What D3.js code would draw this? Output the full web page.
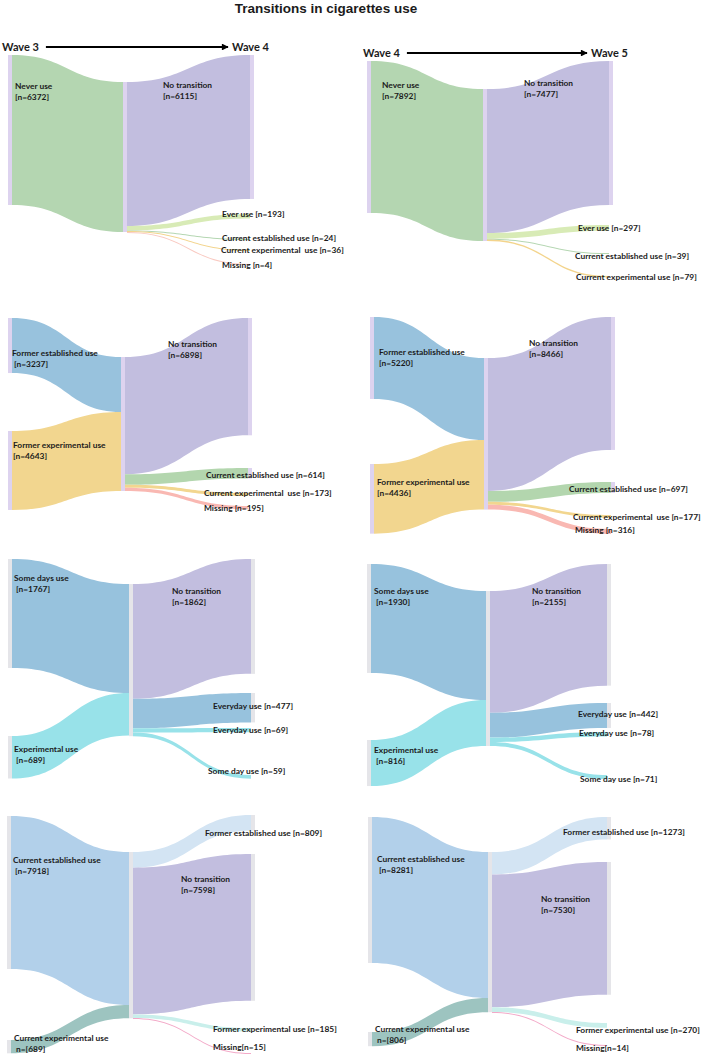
<!DOCTYPE html>
<html>
<head>
<meta charset="utf-8">
<script src="https://cdn.jsdelivr.net/npm/d3@7"></script>
<style>
  body { margin: 0; background: #fff; }
  svg { display: block; }
  text { font-family: Lato, "DejaVu Sans", sans-serif; fill: #1b1b1b; }
</style>
</head>
<body>
<svg id="chart" width="704" height="1062"></svg>
<script>
// ---------- data ----------
const title = "Transitions in cigarettes use";
const waves = ["Wave 3", "Wave 4", "Wave 5"];

// never users
const neverSrcN34 = [6372];
const neverSrcText34 = [["Never use", "[n=6372]"]];
const neverTgtN34 = [6115, 193, 24, 36, 4];
const neverTgtText34 = [["No transition", "[n=6115]"], ["Ever use [n=193]"], ["Current established use [n=24]"],
  ["Current experimental  use [n=36]"], ["Missing [n=4]"]];

const neverSrcN45 = [7892];
const neverSrcText45 = [["Never use", "[n=7892]"]];
const neverTgtN45 = [7477, 297, 39, 79];
const neverTgtText45 = [["No transition", "[n=7477]"], ["Ever use [n=297]"], ["Current established use [n=39]"],
  ["Current experimental use [n=79]"]];

// former users
const formerSrcN34 = [3237, 4643];
const formerSrcText34 = [["Former established use", " [n=3237]"], ["Former experimental use", "[n=4643]"]];
const formerTgtN34 = [6898, 614, 173, 195];
const formerTgtText34 = [["No transition", "[n=6898]"], ["Current established use [n=614]"],
  ["Current experimental  use [n=173]"], ["Missing [n=195]"]];

const formerSrcN45 = [5220, 4436];
const formerSrcText45 = [["Former established use", "[n=5220]"], ["Former experimental use", "[n=4436]"]];
const formerTgtN45 = [8466, 697, 177, 316];
const formerTgtText45 = [["No transition", "[n=8466]"], ["Current established use [n=697]"],
  ["Current experimental  use [n=177]"], ["Missing [n=316]"]];

// some days / experimental users
const somedaySrcN34 = [1767, 689];
const somedaySrcText34 = [["Some days use", " [n=1767]"], ["Experimental use", " [n=689]"]];
const somedayTgtN34 = [1862, 477, 69, 59];
const somedayTgtText34 = [["No transition", "[n=1862]"], ["Everyday use [n=477]"], ["Everyday use [n=69]"],
  ["Some day use [n=59]"]];

const somedaySrcN45 = [1930, 816];
const somedaySrcText45 = [["Some days use", " [n=1930]"], ["Experimental use", " [n=816]"]];
const somedayTgtN45 = [2155, 442, 78, 71];
const somedayTgtText45 = [["No transition", "[n=2155]"], ["Everyday use [n=442]"], ["Everyday use [n=78]"],
  ["Some day use [n=71]"]];

// current users
const currentSrcN34 = [7918, 689];
const currentSrcText34 = [["Current established use", " [n=7918]"], ["Current experimental use", " n=[689]"]];
const currentTgtN34 = [809, 7598, 185, 15];
const currentTgtText34 = [["Former established use [n=809]"], ["No transition", "[n=7598]"],
  ["Former experimental use [n=185]"], ["Missing[n=15]"]];

const currentSrcN45 = [8281, 806];
const currentSrcText45 = [["Current established use", " [n=8281]"], ["Current experimental use", " n=[806]"]];
const currentTgtN45 = [1273, 7530, 270, 14];
const currentTgtText45 = [["Former established use [n=1273]"], ["No transition", "[n=7530]"],
  ["Former experimental use [n=270]"], ["Missing[n=14]"]];

// ---------- styles ----------
const lav = "#ddd3ef", grey = "#e5e5e9", purple = "#c2bedf";
const neverColors = { src: ["#b4d6b1"], tgt: [purple, "#d8ebb6", "#b4d6b1", "#f3d48c", "#f9c9c1"], bar: lav };
const formerColors = { src: ["#98c2dd", "#f2d68f"], tgt: [purple, "#b3d6ae", "#f2d68f", "#f9b8b2"], bar: lav };
const somedayColors = { src: ["#97c2dd", "#98e2e9"], tgt: [purple, "#97c2dd", "#98e2e9", "#98e2e9"], bar: grey };
const currentColors = { src: ["#b2d0ea", "#9dc4c0"], tgt: ["#d3e4f3", purple, "#c9efeb", "#f3a9c8"], bar: grey };

// ---------- layout ----------
const panels = [
  { srcN: neverSrcN34, srcText: neverSrcText34, tgtN: neverTgtN34, tgtText: neverTgtText34, col: neverColors,
    xL: 8, xM: 123, xR: 250, top: 55, px: 150, mid: 27, srcTop: [0], tgtTop: [0, 159, 184, 195, 209],
    srcLab: [[7, 31]], tgtLab: [[-87, 30], [-28, 0], [-28, -1], [-29, 0], [-28, 1]], head: [0, 1] },
  { srcN: neverSrcN45, srcText: neverSrcText45, tgtN: neverTgtN45, tgtText: neverTgtText45, col: neverColors,
    xL: 367, xM: 483, xR: 609, top: 61, px: 152, mid: 28, srcTop: [0], tgtTop: [0, 164, 192, 215],
    srcLab: [[15, 24]], tgtLab: [[-85, 22], [-31, 3], [-34, 3], [-33, 1]], head: [1, 2] },
  { srcN: formerSrcN34, srcText: formerSrcText34, tgtN: formerTgtN34, tgtText: formerTgtText34, col: formerColors,
    xL: 8, xM: 121, xR: 248, top: 318, px: 134, mid: 39, srcTop: [0, 113], tgtTop: [0, 150, 175, 188],
    srcLab: [[4, 35], [5, 14]], tgtLab: [[-80, 26], [-42, 7], [-44, 0], [-44, 2]] },
  { srcN: formerSrcN45, srcText: formerSrcText45, tgtN: formerTgtN45, tgtText: formerTgtText45, col: formerColors,
    xL: 370, xM: 484, xR: 611, top: 317, px: 151.6, mid: 41, srcTop: [0, 147], tgtTop: [0, 165, 198, 212],
    srcLab: [[9, 35], [7, 18]], tgtLab: [[-82, 26], [-42, 7], [-38, 2], [-36, 1]] },
  { srcN: somedaySrcN34, srcText: somedaySrcText34, tgtN: somedayTgtN34, tgtText: somedayTgtText34, col: somedayColors,
    xL: 8, xM: 129, xR: 251, top: 559, px: 151.5, mid: 25, srcTop: [0, 177], tgtTop: [0, 134, 169, 216],
    srcLab: [[6, 19], [6, 13]], tgtLab: [[-79, 32], [-38, 13], [-38, 2], [-43, -4]] },
  { srcN: somedaySrcN45, srcText: somedaySrcText45, tgtN: somedayTgtN45, tgtText: somedayTgtText45, col: somedayColors,
    xL: 367, xM: 486, xR: 607, top: 564, px: 155, mid: 27, srcTop: [0, 176], tgtTop: [0, 139, 168, 211],
    srcLab: [[7, 27], [7, 10]], tgtLab: [[-75, 27], [-29, 11], [-28, 1], [-27, 4]] },
  { srcN: currentSrcN34, srcText: currentSrcText34, tgtN: currentTgtN34, tgtText: currentTgtText34, col: currentColors,
    xL: 7, xM: 129, xR: 251, top: 816, px: 166.3, mid: 36, srcTop: [0, 224], tgtTop: [-1, 38, 212, 237],
    srcLab: [[6, 44], [7, -2]], tgtLab: [[-46, 18], [-70, 25], [-38, 1], [-38, -6]] },
  { srcN: currentSrcN45, srcText: currentSrcText45, tgtN: currentTgtN45, tgtText: currentTgtText45, col: currentColors,
    xL: 368, xM: 488, xR: 607, top: 817, px: 160.2, mid: 35, srcTop: [0, 215], tgtTop: [0, 45, 206, 228],
    srcLab: [[9, 42], [7, -3]], tgtLab: [[-44, 15], [-66, 37], [-31, 7], [-31, 3]] }
];

const bw = 4;
const labelSize = 8.4;
const lineGap = 11.5;

const svg = d3.select("#chart");
svg.append("rect").attr("width", 704).attr("height", 1062).attr("fill", "#fff");

svg.append("defs").append("marker")
  .attr("id", "arrow").attr("viewBox", "0 0 10 10").attr("refX", 9).attr("refY", 5)
  .attr("markerWidth", 4).attr("markerHeight", 3.4).attr("orient", "auto")
  .append("path").attr("d", "M0,0L10,5L0,10Z").attr("fill", "#000");

svg.append("text")
  .attr("x", 326).attr("y", 8).attr("dy", "0.35em")
  .attr("text-anchor", "middle")
  .style("font-family", "'Liberation Sans', Arial, sans-serif")
  .style("font-size", "13.5px").style("font-weight", "bold")
  .text(title);

const flow = d3.area().curve(d3.curveBumpX)
  .x(d => d.x).y0(d => d.y0).y1(d => d.y1);

function addLines(g, lines, x, y, gap) {
  const t = g.append("text")
    .attr("x", x).attr("y", y).attr("dy", "0.35em")
    .style("font-size", labelSize + "px").style("font-weight", 700)
    .style("white-space", "pre");
  lines.forEach((s, i) => {
    t.append("tspan").attr("x", x).attr("y", y + i * gap).attr("dy", "0.35em").text(s);
  });
}

panels.forEach(p => {
  const g = svg.append("g");
  const srcTotal = d3.sum(p.srcN), tgtTotal = d3.sum(p.tgtN);
  const y = d3.scaleLinear().domain([0, srcTotal]).range([0, p.px]);
  const midTop = p.top + p.mid;

  let cum = 0;
  const src = p.srcN.map((v, i) => {
    const s = { i, y0: p.top + p.srcTop[i], h: y(v), m0: midTop + cum };
    cum += y(v);
    return s;
  });
  cum = 0;
  const tgt = p.tgtN.map((v, i) => {
    const h = Math.max(y(v), 1);
    const t = { i, y0: p.top + p.tgtTop[i], h, m0: midTop + cum };
    cum += y(v);
    return t;
  });

  // flows into the middle column
  g.selectAll("path.in").data(src).enter().append("path")
    .attr("class", "in")
    .attr("d", s => flow([{ x: p.xL + bw, y0: s.y0, y1: s.y0 + s.h }, { x: p.xM, y0: s.m0, y1: s.m0 + s.h }]))
    .attr("fill", s => p.col.src[s.i]);

  // flows out of the middle column
  g.selectAll("path.out").data(tgt).enter().append("path")
    .attr("class", "out")
    .attr("d", t => flow([{ x: p.xM + bw, y0: t.m0, y1: t.m0 + t.h }, { x: p.xR, y0: t.y0, y1: t.y0 + t.h }]))
    .attr("fill", t => p.col.tgt[t.i]);

  // node bars
  g.selectAll("rect.src").data(src).enter().append("rect")
    .attr("x", p.xL).attr("y", s => s.y0).attr("width", bw).attr("height", s => s.h)
    .attr("fill", p.col.bar);
  g.append("rect")
    .attr("x", p.xM).attr("y", midTop).attr("width", bw)
    .attr("height", y(Math.max(srcTotal, tgtTotal)))
    .attr("fill", p.col.bar);
  g.selectAll("rect.tgt").data(tgt.filter(t => t.h > 8)).enter().append("rect")
    .attr("x", p.xR).attr("y", t => t.y0).attr("width", bw).attr("height", t => t.h)
    .attr("fill", p.col.bar);

  // labels
  src.forEach(s => addLines(g, p.srcText[s.i], p.xL + p.srcLab[s.i][0], s.y0 + p.srcLab[s.i][1], lineGap));
  tgt.forEach(t => addLines(g, p.tgtText[t.i], p.xR + p.tgtLab[t.i][0], t.y0 + p.tgtLab[t.i][1], 11));

  // wave header with arrow
  if (p.head) {
    const hy = p.top - 8;
    const hx = p.xL - (p.xL < 100 ? 6 : 4);
    const left = g.append("text").attr("x", hx).attr("y", hy).attr("dy", "0.35em")
      .style("font-size", "11px").style("font-weight", 700).text(waves[p.head[0]]);
    const lw = left.node().getComputedTextLength();
    g.append("line")
      .attr("x1", hx + lw + 7).attr("x2", p.xR - 22)
      .attr("y1", hy).attr("y2", hy)
      .attr("stroke", "#000").attr("stroke-width", 2)
      .attr("marker-end", "url(#arrow)");
    g.append("text").attr("x", p.xR - 18).attr("y", hy).attr("dy", "0.35em")
      .style("font-size", "11px").style("font-weight", 700).text(waves[p.head[1]]);
  }
});
</script>
</body>
</html>
